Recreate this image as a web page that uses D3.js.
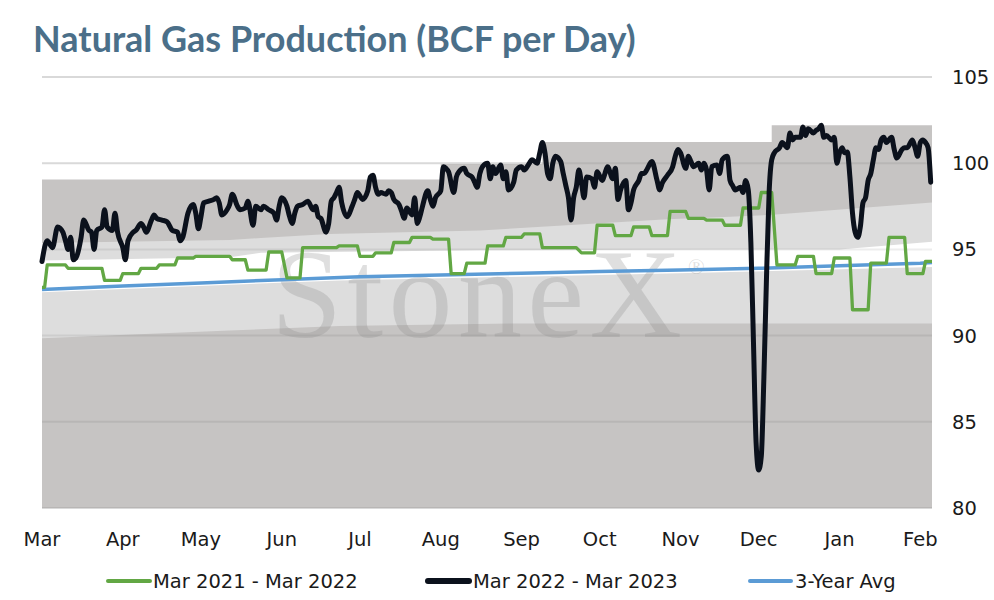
<!DOCTYPE html>
<html>
<head>
<meta charset="utf-8">
<script src="https://cdn.jsdelivr.net/npm/d3@7"></script>
<style>
  html, body { margin: 0; padding: 0; background: #fff; }
  svg { display: block; }
</style>
</head>
<body>
<svg id="chart" width="994" height="600"></svg>
<script>
// ---------------- DATA ----------------
// Day offsets are counted from 1 March 2022.
const startDate = Date.UTC(2022, 2, 1);
const endDay = 341.5;

const yTicks = [80, 85, 90, 95, 100, 105];

const seriesNames = ["Mar 2021 - Mar 2022", "Mar 2022 - Mar 2023", "3-Year Avg"];

// Mar 2022 - Mar 2023 (daily, [day, BCF/d])
const prod2022 = [
  [0,94.3],[2,95.5],[4,95.1],[6,96.3],[8,96.0],[9,95.5],[10,95.0],[11,95.7],[12,94.4],[13,94.5],
  [15,95.7],[16,96.7],[18,96.1],[19,96.0],[20,95.0],[21,96.1],[23,96.3],[24,97.3],[25,96.3],[27,96.1],
  [28,97.1],[29,96.0],[31,95.1],[32,94.4],[33,95.5],[35,96.0],[36,96.1],[38,96.5],[39,96.3],[40,96.0],
  [42,96.7],[43,97.0],[44,96.8],[46,96.7],[48,96.6],[50,96.1],[52,96.0],[53,95.5],[54,95.7],[56,97.1],
  [58,97.6],[59,97.1],[60,96.2],[61,96.9],[62,97.7],[64,97.8],[66,97.9],[67,98.0],[68,97.7],[69,97.0],
  [71,97.3],[72,97.6],[73,98.2],[75,97.5],[76,97.3],[78,97.4],[79,97.8],[81,96.4],[82,97.5],[84,97.3],
  [85,97.5],[87,97.3],[89,97.1],[90,96.7],[91,97.5],[92,98.0],[94,97.5],[95,96.9],[96,96.5],[97,97.1],
  [98,97.5],[100,97.6],[102,97.8],[104,97.3],[105,97.5],[106,96.9],[107,96.8],[109,96.0],[110,96.5],[111,97.8],
  [112,98.0],[113,98.3],[114,98.6],[115,97.7],[117,96.9],[119,97.5],[120,97.9],[121,98.3],[123,97.9],[125,98.4],
  [126,99.2],[127,99.3],[128,98.6],[129,98.2],[130,98.3],[132,98.2],[133,98.4],[134,98.3],[135,97.9],[137,97.6],
  [138,97.2],[139,96.8],[140,97.4],[142,97.0],[143,98.0],[144,96.5],[145,96.9],[146,97.5],[148,98.4],[149,97.9],
  [150,97.5],[151,98.0],[153,98.4],[154,99.8],[155,99.7],[156,99.5],[158,98.3],[159,99.2],[160,99.5],[162,99.7],
  [163,99.4],[165,99.2],[166,98.9],[167,98.6],[168,99.4],[169,99.8],[171,100.0],[172,99.1],[173,99.8],[174,99.4],
  [176,99.9],[177,99.1],[178,99.5],[179,98.45],[181,98.9],[182,99.6],[184,99.8],[185,99.6],[187,100.0],[188,100.2],
  [190,100.0],[191,100.6],[192,101.2],[193,100.6],[194,99.4],[195,99.1],[196,100.0],[197,100.4],[199,100.1],[200,99.4],
  [201,98.7],[202,98.0],[203,96.7],[204,98.0],[205,98.6],[206,99.6],[207,98.85],[208,98.0],[209,99.2],[211,99.1],
  [212,98.6],[213,99.5],[215,99.0],[216,99.4],[217,99.8],[219,99.1],[220,99.7],[221,97.9],[222,98.45],[224,99.0],
  [225,97.3],[226,97.7],[227,98.45],[229,99.0],[230,99.4],[231,99.4],[232,99.6],[234,100.1],[236,99.0],[237,98.45],
  [238,98.85],[240,99.3],[242,99.8],[243,100.4],[244,100.8],[245,100.6],[247,99.7],[248,100.4],[249,100.1],[250,99.8],
  [252,100.0],[253,99.6],[254,100.0],[255,99.6],[256,98.45],[257,99.8],[259,99.9],[260,99.4],[261,100.2],[263,100.4],
  [264,99.0],[265,98.7],[266,98.45],[268,98.6],[269,98.3],[270,99.0],[271,98.45],[272,95.4],[273,89.6],[274,83.8],
  [275,82.2],[276,83.0],[277,87.6],[278,93.4],[279,98.3],[280,100.2],[281,100.6],[283,100.9],[284,101.2],[286,100.9],
  [287,101.75],[288,101.35],[289,101.5],[291,101.5],[292,102.1],[293,101.6],[294,102.0],[296,101.75],[297,101.9],[298,102.0],
  [299,102.2],[300,101.5],[301,101.6],[303,101.35],[304,101.5],[305,100.0],[306,100.6],[307,100.9],[308,100.6],[309,100.65],
  [310,99.2],[311,97.1],[312,96.0],[313,95.7],[314,96.3],[315,97.7],[316,98.0],[317,99.0],[318,99.4],[319,100.2],
  [320,100.9],[321,100.8],[322,101.35],[323,101.5],[324,101.2],[326,101.5],[327,100.8],[328,100.3],[330,100.8],[331,100.9],
  [332,100.9],[334,101.35],[335,100.9],[336,100.4],[337,101.2],[338,101.35],[339,101.2],[340,100.9],[341,98.9]
];

// Mar 2021 - Mar 2022 (weekly steps: [firstDay, lastDay, BCF/d])
const prod2021 = [
  [0,1,92.8],[2,9,94.1],[10,23,93.9],[24,30,93.2],[31,37,93.6],[38,44,93.9],[45,51,94.1],[52,58,94.5],
  [59,72,94.6],[73,78,94.4],[79,86,93.8],[87,92,94.85],[94,99,93.35],[100,113,95.1],[114,121,95.2],[122,127,94.6],
  [128,134,94.8],[135,141,95.4],[142,149,95.7],[150,156,95.6],[157,162,93.6],[163,170,94.2],[171,177,95.2],[178,184,95.7],
  [185,191,95.9],[192,205,95.1],[207,212,94.8],[213,219,96.4],[220,226,95.8],[227,233,96.3],[234,240,95.8],[241,247,97.2],
  [248,254,96.8],[255,261,96.7],[262,268,96.4],[269,275,97.4],[276,280,98.3],[282,289,94.1],[290,296,94.6],[297,303,93.6],
  [304,310,94.5],[311,317,91.5],[318,324,94.2],[325,331,95.7],[332,338,93.6],[339,341.5,94.3]
];

// 3-Year Avg
const avg3yr = [
  [0,92.68],[31,92.87],[61,93.05],[92,93.24],[122,93.42],[153,93.52],[184,93.62],[214,93.72],
  [245,93.8],[275,93.9],[306,94.05],[337,94.2],[341.5,94.24]
];

// Background range bands (edges, bottom to top)
const bandLow     = [[0,89.85],[72,90.3],[114,90.55],[180,90.7],[341.5,90.7]];
const bandMidLow  = [[0,92.52],[114,93.2],[240,93.6],[341.5,93.98]];
const bandMidHigh = [[0,94.35],[72,94.55],[84,94.8],[168,94.95],[280,95.0],[306,95.0],[341.5,95.45]];
const bandHigh    = [[0,95.37],[72,95.55],[84,95.66],[110,95.9],[168,96.1],[240,96.75],[264,96.9],[279,97.0],[341.5,97.72]];
const bandMax     = [[0,99.05],[153,99.95],[192,101.23],[280,102.2],[341.5,102.2]];

// ---------------- CHART ----------------
const svg = d3.select("#chart");
const dayMs = 864e5;
const toDate = d => new Date(startDate + d * dayMs);

const x = d3.scaleUtc()
  .domain([toDate(0), toDate(endDay)])
  .range([42, 932]);
const y = d3.scaleLinear().domain([80, 105]).range([508, 77]);

const fontFam = "'DejaVu Sans', 'Noto Sans', sans-serif";

// base gridlines
svg.append("g").selectAll("line").data(yTicks).join("line")
  .attr("x1", x.range()[0]).attr("x2", x.range()[1])
  .attr("y1", d => y(d)).attr("y2", d => y(d))
  .attr("stroke", "#d9d9d9").attr("stroke-width", 2);

// bands: painted top edge first, down to 80
const areaFrom = (curve) => d3.area()
  .x(d => x(toDate(d[0])))
  .y0(y(80))
  .y1(d => y(d[1]))
  .curve(curve);

const bands = [
  [bandMax, "#c6c4c3", d3.curveStepAfter],
  [bandHigh, "#dddddd", d3.curveLinear],
  [bandMidHigh, "#ffffff", d3.curveLinear],
  [bandMidLow, "#dddddd", d3.curveLinear],
  [bandLow, "#c6c4c3", d3.curveLinear]
];
const gB = svg.append("g");
bands.forEach(([data, col, curve]) => {
  gB.append("path").attr("d", areaFrom(curve)(data)).attr("fill", col);
});

// clip for grid overlay inside bands
svg.append("defs").append("clipPath").attr("id", "bandClip")
  .append("path").attr("d", areaFrom(d3.curveStepAfter)(bandMax));
svg.append("g").attr("clip-path", "url(#bandClip)")
  .selectAll("line").data(yTicks).join("line")
  .attr("x1", x.range()[0]).attr("x2", x.range()[1])
  .attr("y1", d => y(d)).attr("y2", d => y(d))
  .attr("stroke", "rgba(0,0,0,0.07)").attr("stroke-width", 2);

// watermark
svg.append("text")
  .attr("x", 271).attr("y", 337)
  .attr("textLength", 411).attr("lengthAdjust", "spacing")
  .attr("font-family", "'Liberation Serif', 'DejaVu Serif', serif")
  .attr("font-size", 128)
  .attr("fill", "#8c8c8c").attr("fill-opacity", 0.28)
  .text("StoneX");
svg.append("text")
  .attr("x", 688).attr("y", 274)
  .attr("font-family", "'Liberation Serif', serif")
  .attr("font-size", 22)
  .attr("fill", "#8c8c8c").attr("fill-opacity", 0.28)
  .text("®");

// lines
const line = d3.line().x(d => x(toDate(d[0]))).y(d => y(d[1]));

svg.append("path")
  .attr("d", line(avg3yr))
  .attr("fill", "none").attr("stroke", "#5b9bd5").attr("stroke-width", 3.5);

const greenPts = prod2021.flatMap(s => [[s[0], s[2]], [s[1], s[2]]]);
svg.append("path")
  .attr("d", line(greenPts))
  .attr("fill", "none").attr("stroke", "#62a744").attr("stroke-width", 3.3)
  .attr("stroke-linejoin", "round");

svg.append("path")
  .attr("d", line.curve(d3.curveMonotoneX)(prod2022))
  .attr("fill", "none").attr("stroke", "#0b111c").attr("stroke-width", 5)
  .attr("stroke-linejoin", "round").attr("stroke-linecap", "round");

// y axis labels (right)
svg.append("g").selectAll("text").data(yTicks).join("text")
  .attr("x", 952).attr("y", d => y(d)).attr("dy", "0.36em")
  .attr("font-family", fontFam).attr("font-size", 19.5).attr("fill", "#1a1a1a")
  .text(d => d);

// x axis labels
const months = d3.utcMonth.range(toDate(0), toDate(endDay));
svg.append("g").selectAll("text").data(months).join("text")
  .attr("x", d => x(d)).attr("y", 546)
  .attr("text-anchor", "middle")
  .attr("font-family", fontFam).attr("font-size", 19.5).attr("fill", "#1a1a1a")
  .text(d => d3.utcFormat("%b")(d));

// legend
const legendItems = [
  { name: seriesNames[0], color: "#62a744", w: 4, x0: 108, x1: 150, tx: 153 },
  { name: seriesNames[1], color: "#0b111c", w: 6, x0: 428, x1: 469, tx: 473 },
  { name: seriesNames[2], color: "#5b9bd5", w: 4, x0: 750, x1: 791, tx: 795 }
];
const lg = svg.append("g");
legendItems.forEach(it => {
  lg.append("line").attr("x1", it.x0).attr("x2", it.x1).attr("y1", 581).attr("y2", 581)
    .attr("stroke", it.color).attr("stroke-width", it.w).attr("stroke-linecap", "round");
  lg.append("text").attr("x", it.tx).attr("y", 588)
    .attr("font-family", fontFam).attr("font-size", 19.5).attr("fill", "#1a1a1a")
    .text(it.name);
});

// title
const title = svg.append("text")
  .attr("x", 33).attr("y", 52)
  .attr("font-family", "Lato, 'Noto Sans', sans-serif").attr("font-weight", "bold")
  .attr("font-size", 32).attr("fill", "#4b6f89")
  .text("Natural Gas Production (BCF per Day)");
const tw = title.node().getComputedTextLength();
title.attr("font-size", 32 * 603 / tw);
</script>
</body>
</html>
